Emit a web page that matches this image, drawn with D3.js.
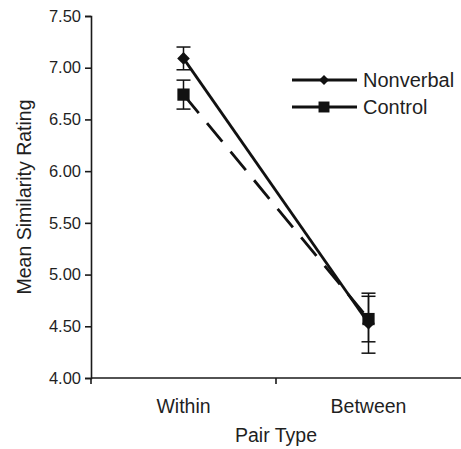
<!DOCTYPE html>
<html lang="en">
<head>
<meta charset="UTF-8">
<title>Mean Similarity Rating by Pair Type</title>
<style>
    body { margin: 0; background: #fff; }
    text { font-family: "Liberation Sans", Arial, sans-serif; fill: #1f1f1f; }
    .axis path, .axis line { stroke: #1a1a1a; stroke-width: 1.6px; }
    .axis text { font-size: 16.5px; }
</style>
</head>
<body>
<svg id="chart" width="461" height="449"></svg>
<script src="https://d3js.org/d3.v7.min.js"></script>
<script>
    // data
    const categories = ["Within", "Between"];
    const nonverbal = [7.09, 4.53];
    const nonverbalErr = [0.11, 0.29];
    const control = [6.74, 4.57];
    const controlErr = [0.14, 0.22];
    const yTicks = [4.0, 4.5, 5.0, 5.5, 6.0, 6.5, 7.0, 7.5];

    const svg = d3.select("#chart");
    const margin = {left: 91, right: 0, top: 16, bottom: 71};
    const W = 461, H = 449;

    const x = d3.scaleBand().domain(categories).range([margin.left, W - margin.right]);
    const y = d3.scaleLinear().domain([4, 7.5]).range([H - margin.bottom, margin.top]);
    const cx = d => x(d) + x.bandwidth() / 2;

    // axes
    svg.append("g")
        .attr("class", "axis")
        .attr("transform", `translate(${margin.left},0)`)
        .call(d3.axisLeft(y).tickValues(yTicks).tickFormat(d3.format(".2f")).tickSize(6).tickPadding(4));

    const xAxis = svg.append("g")
        .attr("class", "axis")
        .attr("transform", `translate(0,${y(4)})`)
        .call(d3.axisBottom(x).tickSize(0).tickPadding(21));
    xAxis.select(".domain").attr("d", `M${margin.left},0H${W}`);
    xAxis.selectAll(".tick text").style("font-size", "19.5px");
    // tick marks between the bands
    xAxis.append("line").attr("x1", x("Between")).attr("x2", x("Between")).attr("y1", 0).attr("y2", 6);
    xAxis.append("line").attr("x1", margin.left).attr("x2", margin.left).attr("y1", 0).attr("y2", 6);

    // axis titles
    svg.append("text")
        .attr("x", (margin.left + W) / 2)
        .attr("y", 442)
        .attr("text-anchor", "middle")
        .style("font-size", "19.5px")
        .text("Pair Type");

    svg.append("text")
        .attr("transform", `translate(31,${(y(4) + y(7.5)) / 2}) rotate(-90)`)
        .attr("text-anchor", "middle")
        .style("font-size", "19.5px")
        .text("Mean Similarity Rating");

    const line = d3.line().x((d, i) => cx(categories[i])).y(d => y(d));

    function drawErr(vals, errs) {
        vals.forEach((v, i) => {
            const px = cx(categories[i]);
            const g = svg.append("g").attr("stroke", "#111").attr("stroke-width", 1.5);
            g.append("line").attr("x1", px).attr("x2", px).attr("y1", y(v + errs[i])).attr("y2", y(v - errs[i]));
            g.append("line").attr("x1", px - 7).attr("x2", px + 7).attr("y1", y(v + errs[i])).attr("y2", y(v + errs[i]));
            g.append("line").attr("x1", px - 7).attr("x2", px + 7).attr("y1", y(v - errs[i])).attr("y2", y(v - errs[i]));
        });
    }

    drawErr(control, controlErr);
    drawErr(nonverbal, nonverbalErr);

    // control: dashed line with squares
    svg.append("path")
        .datum(control)
        .attr("d", line)
        .attr("fill", "none")
        .attr("stroke", "#111")
        .attr("stroke-width", 2.8)
        .attr("stroke-dasharray", "24,13");

    // diamonds are squares turned 45 degrees
    const square = d3.symbol().type(d3.symbolSquare).size(150);
    const diamond = d3.symbol().type(d3.symbolSquare).size(80);
    const legendDiamond = d3.symbol().type(d3.symbolSquare).size(50);
    const legendSquare = d3.symbol().type(d3.symbolSquare).size(120);

    svg.selectAll(".ctl")
        .data(control)
        .join("path")
        .attr("class", "ctl")
        .attr("transform", (d, i) => `translate(${cx(categories[i])},${y(d)})`)
        .attr("d", square)
        .attr("fill", "#111");

    // nonverbal: solid line with diamonds
    svg.append("path")
        .datum(nonverbal)
        .attr("d", line)
        .attr("fill", "none")
        .attr("stroke", "#111")
        .attr("stroke-width", 2.8);

    svg.selectAll(".nv")
        .data(nonverbal)
        .join("path")
        .attr("class", "nv")
        .attr("transform", (d, i) => `translate(${cx(categories[i])},${y(d)}) rotate(45)`)
        .attr("d", diamond)
        .attr("fill", "#111");

    // legend
    const legend = [
        {name: "Nonverbal", sym: legendDiamond, rot: 45, yy: 80},
        {name: "Control", sym: legendSquare, rot: 0, yy: 107}
    ];
    legend.forEach(l => {
        svg.append("line")
            .attr("x1", 292).attr("x2", 357)
            .attr("y1", l.yy).attr("y2", l.yy)
            .attr("stroke", "#111").attr("stroke-width", 2.8);
        svg.append("path")
            .attr("transform", `translate(324,${l.yy}) rotate(${l.rot})`)
            .attr("d", l.sym)
            .attr("fill", "#111");
        svg.append("text")
            .attr("x", 363).attr("y", l.yy + 7)
            .style("font-size", "20px")
            .text(l.name);
    });
</script>
</body>
</html>
